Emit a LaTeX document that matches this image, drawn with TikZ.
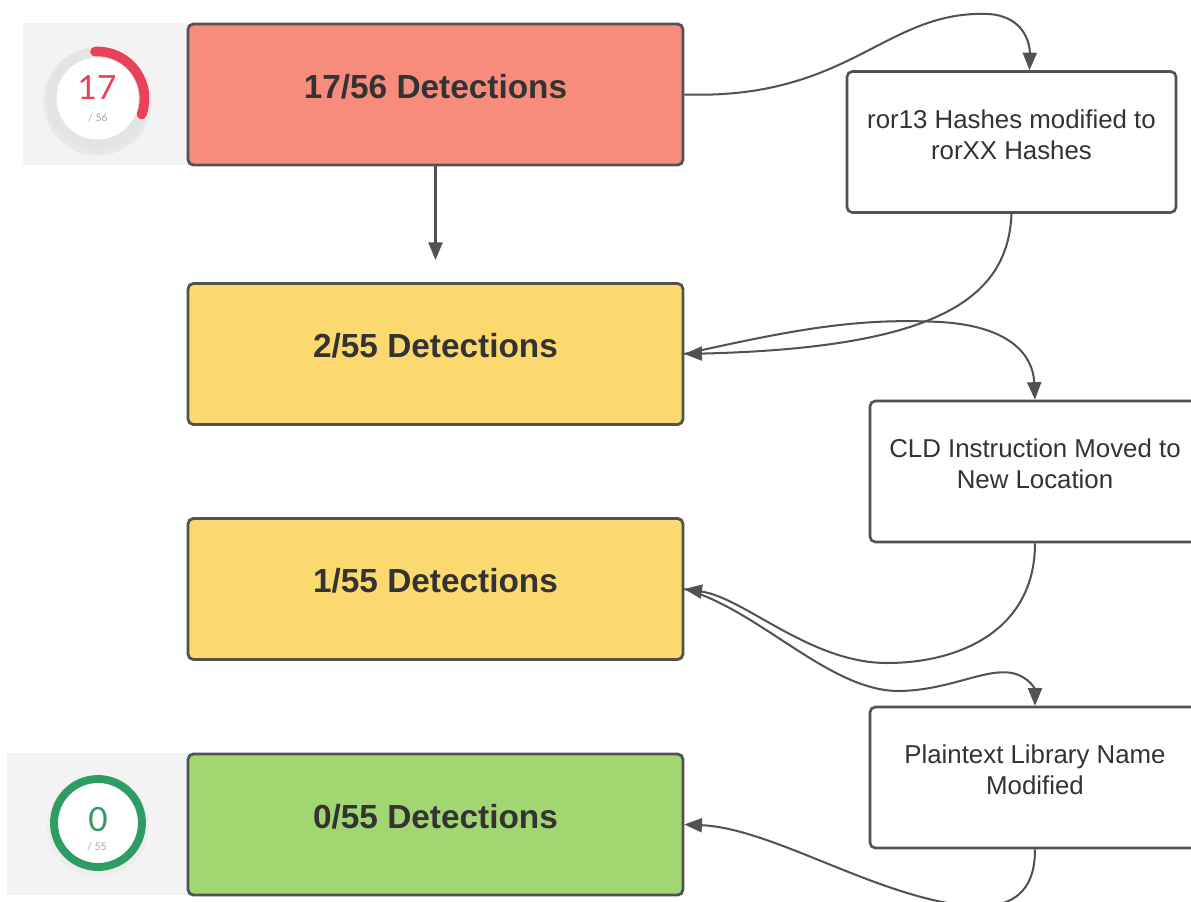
\documentclass[tikz,border=0pt]{standalone}
\usepackage{fontspec}
\setmainfont{Liberation Sans}
\newfontfamily\gaugefont{Lato}
\usetikzlibrary{arrows.meta}

\definecolor{detred}{HTML}{F88C7C}
\definecolor{detyellow}{HTML}{FCD96E}
\definecolor{detgreen}{HTML}{A2D672}
\definecolor{boxgray}{HTML}{525252}
\definecolor{txtgray}{HTML}{333333}
\definecolor{panelgray}{HTML}{F3F3F3}
\definecolor{ringgray}{HTML}{E4E4E4}
\definecolor{gaugered}{HTML}{E8415A}
\definecolor{gaugegreen}{HTML}{2E9D63}

\tikzset{
  detbox/.style={draw=boxgray, line width=1.6pt, rounded corners=3pt,
    minimum width=9.9cm, minimum height=2.82cm, text=txtgray, text depth=0.34cm,
    font=\fontsize{19}{23}\selectfont\bfseries},
  notebox/.style={draw=boxgray, line width=1.5pt, fill=white, rounded corners=3pt,
    minimum height=2.82cm, align=center, text=txtgray, text depth=0.3cm,
    font=\fontsize{14.7}{17.6}\selectfont},
  flow/.style={draw=boxgray, line width=1.15pt, -{Triangle[length=10pt,width=8pt]}}
}

\begin{document}
\begin{tikzpicture}[x=0.02cm, y=-0.02cm]
                \useasboundingbox (0,0) rectangle (1191,902);
                \fill[white] (0,0) rectangle (1191,902);

                % gauges
                \fill[panelgray] (23,23) rectangle (188,165);
                \fill[panelgray] (7,753) rectangle (188,895);
                \coordinate (gauge17) at (97.5,98.5);
                \coordinate (gauge0) at (98,823);
                \fill[black!9] ([yshift=-0.06cm]gauge17) circle (1.08cm);
                \fill[ringgray] (gauge17) circle (1.03cm);
                \fill[white] (gauge17) circle (0.82cm);
                \draw[gaugered, line width=5.5pt, line cap=round] ([shift={(93:0.94cm)}]gauge17) arc[start angle=93, end angle=-20, radius=0.94cm];
                \node[text=gaugered, font=\gaugefont\fontsize{19}{19}\selectfont] (num17) at (97,88) {17};
                \node[text=black!35, font=\gaugefont\fontsize{6}{6}\selectfont] (of56) at (98,118) {/ 56};
                \fill[black!7] ([yshift=-0.06cm]gauge0) circle (1.02cm);
                \draw[gaugegreen, line width=4.5pt, fill=white] (gauge0) circle (0.88cm);
                \node[text=gaugegreen, font=\gaugefont\fontsize{19}{19}\selectfont] (num0) at (98,820) {0};
                \node[text=black!35, font=\gaugefont\fontsize{6}{6}\selectfont] (of55) at (97,847) {/ 55};

                % boxes
                \node[detbox, fill=detred] (det17) at (435.5,94.5) {17/56 Detections};
                \node[detbox, fill=detyellow] (det2) at (435.5,354) {2/55 Detections};
                \node[detbox, fill=detyellow] (det1) at (435.5,589) {1/55 Detections};
                \node[detbox, fill=detgreen] (det0) at (435.5,824.5) {0/55 Detections};
                \node[notebox, minimum width=6.58cm] (hash) at (1011.5,142) {ror13 Hashes modified to\\rorXX Hashes};
                \node[notebox, minimum width=6.6cm] (cld) at (1035,471.5) {CLD Instruction Moved to\\New Location};
                \node[notebox, minimum width=6.6cm] (plain) at (1035,777.5) {Plaintext Library Name\\Modified};

                % connectors
                \coordinate (stop17) at (435.5,260);
                \draw[flow] (det17.south) -- (stop17);
                \draw[flow] (det17.east) .. controls (850,100) and (885,10) .. (988,14) .. controls (1025,16) and (1030,45) .. ([xshift=0.36cm]hash.north);
                \draw[flow] (hash.south) .. controls (1008,300) and (935,348) .. (det2.east);
                \draw[flow] (det2.east) .. controls (800,328) and (860,318) .. (940,322) .. controls (1010,326) and (1033,355) .. (cld.north);
                \draw[flow] (cld.south) .. controls (1035,630) and (960,663) .. (887,663) .. controls (810,663) and (745,598) .. (det1.east);
                \draw[flow] (det1.east) .. controls (760,610) and (830,692) .. (900,691) .. controls (950,690) and (985,668) .. (1012,673) .. controls (1030,677) and (1035,690) .. (plain.north);
                \draw[flow] (plain.south) .. controls (1035,890) and (1015,912) .. (960,905) .. controls (870,893) and (770,828) .. (det0.east);
            \end{tikzpicture}
\end{document}
